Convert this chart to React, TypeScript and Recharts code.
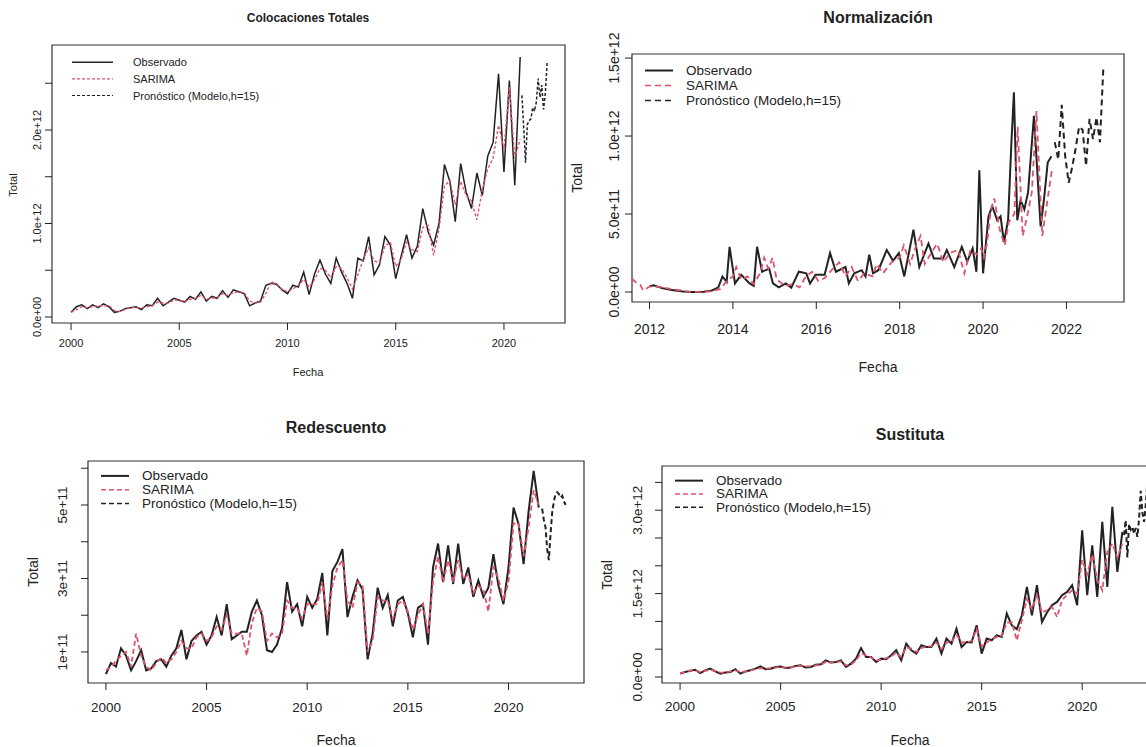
import React from "react";
import { LineChart, Line, XAxis, YAxis, ReferenceArea, Legend } from "recharts";

// todas las series en unidades de 1e11
const aniosCada5 = [2000, 2005, 2010, 2015, 2020];
const aniosCada2 = [2012, 2014, 2016, 2018, 2020, 2022];
const leyenda = ["Observado", "SARIMA", "Pronóstico (Modelo,h=15)"];

// Colocaciones Totales (trimestral desde 2000)
const colocObservado = [
  0.5, 1.1, 1.3, 0.9, 1.3, 1.0, 1.4, 1.1, 0.5, 0.6, 0.9, 1.0, 1.1, 0.8, 1.3, 1.2,
  2.0, 1.2, 1.6, 2.0, 1.8, 1.6, 2.2, 1.9, 2.7, 1.7, 2.2, 2.0, 2.8, 2.1, 2.9, 2.7,
  2.5, 1.2, 1.5, 1.7, 3.4, 3.6, 3.5, 2.9, 2.5, 3.4, 3.2, 4.8, 2.4, 4.6, 6.1, 4.6,
  3.6, 6.3, 4.8, 3.6, 2.0, 6.3, 6.0, 8.6, 4.5, 5.6, 8.6, 7.7, 4.1, 6.5, 8.8, 6.3,
  7.6, 11.6, 9.1, 7.7, 10.0, 16.3, 14.5, 10.2, 16.4, 13.4, 11.6, 15.4,
  13.0, 17.2, 18.7, 26.0, 15.5, 25.3, 14.1, 27.8,
];
const colocSarima = [
  0.5, 0.8, 1.1, 1.0, 1.1, 1.2, 1.2, 1.2, 0.7, 0.6, 0.8, 1.0, 1.0, 1.0, 1.1, 1.2,
  1.6, 1.5, 1.5, 1.8, 1.8, 1.6, 1.9, 2.0, 2.3, 1.9, 2.0, 2.1, 2.5, 2.3, 2.6, 2.7,
  2.6, 1.7, 1.5, 1.6, 2.5, 3.8, 3.4, 3.0, 2.7, 3.0, 3.4, 4.0, 3.2, 4.0, 5.2, 5.0,
  4.2, 5.4, 5.2, 4.2, 3.0, 4.5, 6.2, 7.4, 6.0, 5.8, 7.6, 8.0, 5.4, 6.2, 8.0, 7.2,
  7.0, 9.6, 9.8, 6.6, 9.4, 14.0, 14.6, 12.0, 14.5, 13.0, 12.4, 10.4,
  13.6, 15.8, 17.0, 20.5, 18.0, 24.6, 17.0, 19.0,
];
const colocPronostico = [23.7, 20.2, 16.5, 20.6, 21.0, 21.2, 22.4, 22.0, 23.0, 25.5, 23.5, 24.8, 22.2, 24.0, 27.3];

// Normalización
const normFechas = [
  2012.0, 2012.1, 2012.3, 2012.5, 2012.8, 2013.0, 2013.3, 2013.5, 2013.65, 2013.75, 2013.85, 2013.92,
  2014.05, 2014.2, 2014.4, 2014.5, 2014.58, 2014.7, 2014.87, 2014.96, 2015.1, 2015.27, 2015.4, 2015.58,
  2015.76, 2015.85, 2015.98, 2016.2, 2016.33, 2016.47, 2016.7, 2016.78, 2016.91, 2017.09, 2017.18, 2017.27,
  2017.36, 2017.49, 2017.69, 2017.84, 2017.98, 2018.11, 2018.33, 2018.47, 2018.69, 2018.82, 2019.04, 2019.13,
  2019.31, 2019.49, 2019.62, 2019.75, 2019.84, 2019.91, 2020.0, 2020.13, 2020.22, 2020.34, 2020.42, 2020.5,
  2020.6, 2020.68, 2020.74, 2020.82, 2020.9, 2020.99, 2021.08, 2021.22, 2021.38, 2021.46, 2021.55, 2021.64,
];
const normObservado = [
  0.37, 0.43, 0.25, 0.15, 0.03, 0.0, 0.02, 0.1, 0.3, 1.0, 0.65, 2.9,
  0.55, 1.1, 0.55, 0.4, 2.9, 1.3, 1.5, 0.55, 0.3, 0.55, 0.28, 1.3,
  1.2, 0.55, 1.1, 1.1, 2.5, 1.3, 1.6, 0.55, 1.2, 1.4, 1.0, 2.4,
  1.2, 1.4, 2.7, 2.0, 2.5, 1.0, 4.0, 1.6, 3.1, 2.15, 2.15, 2.7,
  1.6, 2.9, 1.95, 2.8, 1.3, 7.8, 1.2, 4.85, 5.5, 4.6, 4.85, 3.2,
  4.6, 9.6, 12.8, 4.6, 5.9, 5.3, 6.4, 11.3, 4.2, 5.9, 8.3, 8.7,
];
const normFechasSarima = [
  2011.58, 2011.7, 2011.78, 2011.85, 2012.0, 2012.2, 2012.5, 2013.0, 2013.5, 2013.7, 2013.85, 2014.0,
  2014.08, 2014.2, 2014.35, 2014.5, 2014.65, 2014.75, 2014.85, 2014.95, 2015.05, 2015.25, 2015.45, 2015.6,
  2015.75, 2015.9, 2016.05, 2016.2, 2016.4, 2016.55, 2016.7, 2016.85, 2017.0, 2017.15, 2017.35, 2017.45,
  2017.6, 2017.8, 2018.0, 2018.1, 2018.25, 2018.4, 2018.5, 2018.6, 2018.8, 2018.9, 2019.05, 2019.2,
  2019.4, 2019.55, 2019.7, 2019.85, 2019.95, 2020.02, 2020.1, 2020.18, 2020.27, 2020.4, 2020.52, 2020.62,
  2020.75, 2020.83, 2020.95, 2021.07, 2021.17, 2021.28, 2021.42, 2021.55, 2021.66,
];
const normSarima = [
  0.85, 0.55, 0.45, 0.1, 0.35, 0.35, 0.2, 0.0, 0.05, 0.2, 0.7, 1.0,
  1.6, 0.8, 1.0, 0.5, 1.2, 2.2, 1.5, 2.2, 0.8, 0.4, 0.5, 0.3,
  1.0, 1.3, 0.7, 0.9, 1.5, 1.9, 1.0, 1.6, 0.7, 1.2, 1.0, 1.8,
  1.2, 1.9, 2.2, 3.0, 1.8, 3.0, 3.6, 1.8, 2.7, 3.1, 1.9, 2.5,
  2.7, 1.2, 2.7, 2.4, 2.8, 2.2, 3.2, 5.2, 6.0, 4.0, 3.0, 4.5,
  5.0, 10.6, 3.6, 5.0, 6.4, 11.6, 3.6, 6.0, 8.0,
];
const normPronostico = [9.6, 8.5, 12.0, 8.7, 7.0, 8.0, 9.2, 10.6, 10.4, 8.1, 11.1, 9.8, 11.2, 9.6, 14.5];

// Redescuento (trimestral desde 2000)
const redescObservado = [
  0.4, 0.7, 0.6, 1.1, 0.9, 0.5, 0.75, 1.05, 0.5, 0.55, 0.75, 0.8, 0.6, 0.9, 1.1, 1.6,
  0.8, 1.3, 1.45, 1.55, 1.2, 1.45, 1.95, 1.45, 2.3, 1.35, 1.45, 1.55, 1.55, 2.1, 2.4, 2.0,
  1.05, 1.0, 1.2, 1.65, 2.9, 2.1, 2.3, 1.7, 2.5, 2.2, 2.45, 3.15, 1.45, 3.2, 3.45, 3.8,
  1.95, 2.5, 2.95, 2.7, 0.8, 1.5, 2.75, 2.2, 2.55, 1.7, 2.4, 2.5, 2.05, 1.4, 2.2, 2.3,
  1.2, 3.3, 3.95, 2.9, 3.9, 2.85, 3.95, 2.85, 3.3, 2.5, 2.95, 2.5,
  2.75, 3.66, 2.8, 2.3, 3.3, 4.93, 4.48, 3.39, 4.84, 5.93, 4.93,
];
const redescSarima = [
  0.5, 0.6, 0.75, 0.9, 1.0, 0.6, 1.5, 0.9, 0.6, 0.5, 0.7, 0.85, 0.7, 0.8, 1.0, 1.3,
  1.1, 1.1, 1.4, 1.5, 1.3, 1.4, 1.7, 1.6, 2.0, 1.5, 1.5, 1.5, 0.9, 1.8, 2.2, 2.1,
  1.3, 1.5, 1.4, 1.5, 2.4, 2.2, 2.2, 1.9, 2.3, 2.3, 2.3, 2.9, 1.9, 2.8, 3.3, 3.5,
  2.4, 2.2, 2.9, 2.8, 1.0, 1.3, 2.5, 2.4, 2.4, 1.9, 2.3, 2.4, 2.1, 1.6, 2.0, 2.3,
  1.5, 2.9, 3.6, 2.9, 3.5, 2.9, 3.5, 3.0, 3.1, 2.6, 2.8, 2.7,
  2.1, 3.3, 3.0, 2.4, 2.9, 4.5, 4.5, 3.6, 4.4, 5.4, 5.0,
];
const redescPronostico = [4.9, 4.6, 4.4, 3.8, 3.5, 4.2, 4.8, 5.1, 5.3, 5.35, 5.3, 5.2, 5.25, 5.1, 5.0];

// Sustituta (trimestral desde 2000)
const sustObservado = [
  0.6, 0.9, 1.1, 1.3, 0.7, 1.2, 1.5, 1.0, 0.6, 0.8, 0.9, 1.4, 0.6, 1.0, 1.2, 1.5,
  1.9, 1.4, 1.5, 1.8, 1.9, 1.6, 1.7, 2.0, 2.1, 1.7, 1.8, 2.2, 2.3, 3.0, 2.6, 2.7,
  3.0, 1.8, 2.4, 3.3, 5.2, 3.6, 3.6, 2.7, 3.3, 3.2, 3.9, 4.8, 3.0, 6.0, 4.8, 4.2,
  5.7, 5.4, 5.4, 6.9, 4.2, 6.9, 6.0, 8.7, 5.4, 6.3, 6.2, 9.3, 4.2, 6.9, 6.6, 7.5,
  7.2, 11.4, 9.3, 8.6, 11.1, 16.2, 11.1, 16.5, 9.9, 11.6, 12.9, 13.5,
  14.7, 15.3, 16.5, 12.9, 26.4, 14.7, 23.7, 14.4, 27.9, 16.2, 30.6, 18.9, 26.1,
];
const sustSarima = [
  0.7, 0.9, 1.2, 1.1, 0.9, 1.1, 1.3, 1.1, 0.8, 0.8, 1.0, 1.2, 0.9, 1.0, 1.2, 1.4,
  1.6, 1.5, 1.6, 1.7, 1.8, 1.7, 1.8, 1.9, 2.0, 1.9, 1.9, 2.1, 2.2, 2.7, 2.6, 2.7,
  2.8, 2.1, 2.2, 3.0, 4.3, 3.9, 3.5, 3.0, 3.1, 3.4, 3.7, 4.4, 3.6, 5.3, 5.1, 4.5,
  5.2, 5.5, 5.5, 6.2, 5.0, 6.2, 6.3, 7.6, 6.2, 6.2, 6.5, 8.6, 5.5, 6.2, 6.8, 7.2,
  7.4, 9.8, 9.8, 6.6, 10.2, 14.0, 12.2, 14.8, 11.6, 12.0, 12.6, 10.8,
  13.8, 14.8, 15.6, 15.0, 21.0, 18.5, 22.0, 17.5, 15.6, 22.5, 24.0, 21.5, 24.0,
];
const sustPronostico = [25.5, 28.2, 21.5, 27.5, 26.5, 27.0, 25.8, 26.8, 25.2, 28.5, 33.5, 29.5, 27.9, 31.0, 35.4];

type Punto = { t: number; v: number };
const cadaTrimestre = (desde: number, vals: number[]): Punto[] => vals.map((v, i) => ({ t: desde + i / 4, v }));
const cadaMes = (desde: number, vals: number[]): Punto[] => vals.map((v, i) => ({ t: desde + i / 12, v }));
const enFechas = (fechas: number[], vals: number[]): Punto[] => fechas.map((t, i) => ({ t, v: vals[i] }));

const INK = "#222";
const ROJO = "#DF536B";
const ARIAL = '"Liberation Sans", Arial, sans-serif';
const ESTRECHA = '"Liberation Sans Narrow", "Arial Narrow", "Liberation Sans", sans-serif';

const panels = [
  {
    titulo: "Colocaciones Totales", tituloPos: [308, 18], tituloSize: 12, fuente: ESTRECHA,
    chart: { left: 0, top: 30, width: 580, height: 330 }, box: { left: 52, top: 45, right: 565, bottom: 323 },
    xDomain: [1999.12, 2022.82], xTicks: aniosCada5, xLabelY: 343, tickSize: 11,
    yDomain: [-0.64, 29.09], yTicks: [0, 5, 10, 15, 20, 25],
    yLabels: { 0: "0.0e+00", 10: "1.0e+12", 20: "2.0e+12" } as Record<number, string>, yLabelX: 37,
    fecha: [308, 372], total: [13, 185], ejeSize: 11,
    ley: { x: 72, y: 62.5, fila: 16.6, largo: 41, texto: 61, size: 11 },
    grosor: 1.5, guion: "3 2", guionPron: "3 2",
    obs: cadaTrimestre(2000, colocObservado), sar: cadaTrimestre(2000, colocSarima),
    pron: cadaMes(2020.83, colocPronostico),
  },
  {
    titulo: "Normalización", tituloPos: [878, 18], tituloSize: 16, fuente: ARIAL,
    chart: { left: 585, top: 26, width: 555, height: 314 }, box: { left: 632, top: 54, right: 1124, bottom: 302 },
    xDomain: [2011.58, 2023.38], xTicks: aniosCada2, xLabelY: 329, tickSize: 14,
    yDomain: [-0.64, 15.26], yTicks: [0, 5, 10, 15],
    yLabels: { 0: "0.0e+00", 5: "5.0e+11", 10: "1.0e+12", 15: "1.5e+12" } as Record<number, string>, yLabelX: 614,
    fecha: [878, 367], total: [577, 178], ejeSize: 14,
    ley: { x: 645, y: 70.5, fila: 15, largo: 28, texto: 41, size: 13.5 },
    grosor: 2, guion: "6 4", guionPron: "6 4",
    obs: enFechas(normFechas, normObservado), sar: enFechas(normFechasSarima, normSarima),
    pron: cadaMes(2021.72, normPronostico),
  },
  {
    titulo: "Redescuento", tituloPos: [336, 428], tituloSize: 16, fuente: ARIAL,
    chart: { left: 40, top: 450, width: 555, height: 275 }, box: { left: 88, top: 461, right: 584, bottom: 683 },
    xDomain: [1999.11, 2023.75], xTicks: aniosCada5, xLabelY: 707, tickSize: 13.5,
    yDomain: [0.156, 6.197], yTicks: [1, 2, 3, 4, 5, 6],
    yLabels: { 1: "1e+11", 3: "3e+11", 5: "5e+11" } as Record<number, string>, yLabelX: 63,
    fecha: [336, 740], total: [33, 572], ejeSize: 14,
    ley: { x: 101, y: 475.5, fila: 13.8, largo: 28, texto: 41, size: 13.5 },
    grosor: 2, guion: "5 3", guionPron: "5 3",
    obs: cadaTrimestre(2000, redescObservado), sar: cadaTrimestre(2000, redescSarima),
    pron: cadaMes(2021.67, redescPronostico),
  },
  {
    titulo: "Sustituta", tituloPos: [910, 435], tituloSize: 16, fuente: ARIAL,
    chart: { left: 600, top: 455, width: 575, height: 265 }, box: { left: 662, top: 466, right: 1164, bottom: 683 },
    xDomain: [1999.1, 2024.07], xTicks: aniosCada5, xLabelY: 706, tickSize: 13.5,
    yDomain: [-1.08, 37.95], yTicks: [0, 5, 10, 15, 20, 25, 30, 35],
    yLabels: { 0: "0.0e+00", 15: "1.5e+12", 30: "3.0e+12" } as Record<number, string>, yLabelX: 638,
    fecha: [910, 740], total: [607, 575], ejeSize: 14,
    ley: { x: 675, y: 480.5, fila: 13.3, largo: 28, texto: 41, size: 13.5 },
    grosor: 2, guion: "5 3", guionPron: "5 3",
    obs: cadaTrimestre(2000, sustObservado), sar: cadaTrimestre(2000, sustSarima),
    pron: cadaMes(2022.08, sustPronostico),
  },
];

type Cfg = (typeof panels)[number];

const Texto = ({ x, y, size, bold, rot, font, children }: any) => (
  <div
    style={{
      position: "absolute", left: x, top: y, whiteSpace: "nowrap", color: INK,
      fontFamily: font, fontSize: size, fontWeight: bold ? 700 : 400, lineHeight: 1,
      transform: `translate(-50%, -50%)${rot ? " rotate(-90deg)" : ""}`,
    }}
  >
    {children}
  </div>
);

function Panel({ cfg }: { cfg: Cfg }) {
  const { chart, box, ley } = cfg;
  const margin = { top: box.top - chart.top, right: chart.left + chart.width - box.right, left: 0, bottom: 0 };
  const rotFont = cfg.fuente === ESTRECHA ? ARIAL : cfg.fuente;

  const xTick = (p: any) => (
    <text x={p.x} y={cfg.xLabelY - chart.top} textAnchor="middle" dominantBaseline="central"
      fontSize={cfg.tickSize} fontFamily={cfg.fuente} fill={INK}>
      {p.payload.value}
    </text>
  );
  const yTick = (p: any) => {
    const label = cfg.yLabels[p.payload.value];
    if (!label) return <g />;
    const lx = cfg.yLabelX - chart.left;
    return (
      <text x={lx} y={p.y} transform={`rotate(-90 ${lx} ${p.y})`} textAnchor="middle" dominantBaseline="central"
        fontSize={cfg.tickSize} fontFamily={rotFont} fill={INK}>
        {label}
      </text>
    );
  };

  const estilos = [
    { color: INK, dash: undefined, w: cfg.grosor },
    { color: ROJO, dash: cfg.guion, w: cfg.grosor * 0.8 },
    { color: INK, dash: cfg.guionPron, w: cfg.grosor * 0.8 },
  ];
  const contenidoLeyenda = () => (
    <svg width={260} height={ley.fila * 3 + 4}>
      {leyenda.map((nombre, i) => {
        const y = ley.fila / 2 + 2 + i * ley.fila;
        return (
          <g key={nombre}>
            <line x1={0} x2={ley.largo} y1={y} y2={y} stroke={estilos[i].color}
              strokeWidth={estilos[i].w} strokeDasharray={estilos[i].dash} />
            <text x={ley.texto} y={y} dominantBaseline="central" fontSize={ley.size}
              fontFamily={cfg.fuente} fill={INK}>{nombre}</text>
          </g>
        );
      })}
    </svg>
  );

  return (
    <>
      <div style={{ position: "absolute", left: chart.left, top: chart.top }}>
        <LineChart width={chart.width} height={chart.height} margin={margin}>
          <XAxis type="number" dataKey="t" domain={cfg.xDomain} ticks={cfg.xTicks} interval={0}
            allowDataOverflow height={chart.top + chart.height - box.bottom} axisLine={false}
            tickLine={{ stroke: INK }} tickSize={7} tick={xTick} />
          <YAxis type="number" dataKey="v" domain={cfg.yDomain} ticks={cfg.yTicks} interval={0}
            allowDataOverflow width={box.left - chart.left} axisLine={false}
            tickLine={{ stroke: INK }} tickSize={7} tick={yTick} />
          <ReferenceArea x1={cfg.xDomain[0]} x2={cfg.xDomain[1]} y1={cfg.yDomain[0]} y2={cfg.yDomain[1]}
            fill="none" stroke="#333" strokeWidth={1.2} ifOverflow="visible" />
          <Line data={cfg.obs} dataKey="v" type="linear" stroke={INK} strokeWidth={cfg.grosor}
            dot={false} isAnimationActive={false} />
          <Line data={cfg.sar} dataKey="v" type="linear" stroke={ROJO} strokeWidth={cfg.grosor * 0.9}
            strokeDasharray={cfg.guion} dot={false} isAnimationActive={false} />
          <Line data={cfg.pron} dataKey="v" type="linear" stroke={INK} strokeWidth={cfg.grosor}
            strokeDasharray={cfg.guionPron} dot={false} isAnimationActive={false} />
          <Legend verticalAlign="middle" align="center" layout="horizontal" content={contenidoLeyenda}
            wrapperStyle={{ left: ley.x - chart.left, top: ley.y - chart.top - ley.fila / 2 - 2, width: 260, height: ley.fila * 3 + 4 }} />
        </LineChart>
      </div>
      <Texto x={cfg.tituloPos[0]} y={cfg.tituloPos[1]} size={cfg.tituloSize} bold font={cfg.fuente}>{cfg.titulo}</Texto>
      <Texto x={cfg.fecha[0]} y={cfg.fecha[1]} size={cfg.ejeSize} font={cfg.fuente}>Fecha</Texto>
      <Texto x={cfg.total[0]} y={cfg.total[1]} size={cfg.ejeSize} rot font={rotFont}>Total</Texto>
    </>
  );
}

export default function App() {
  return (
    <div style={{ position: "absolute", left: 0, top: 0, width: 1146, height: 747, overflow: "hidden", background: "#fff" }}>
      {panels.map((p) => (
        <Panel key={p.titulo} cfg={p} />
      ))}
    </div>
  );
}
